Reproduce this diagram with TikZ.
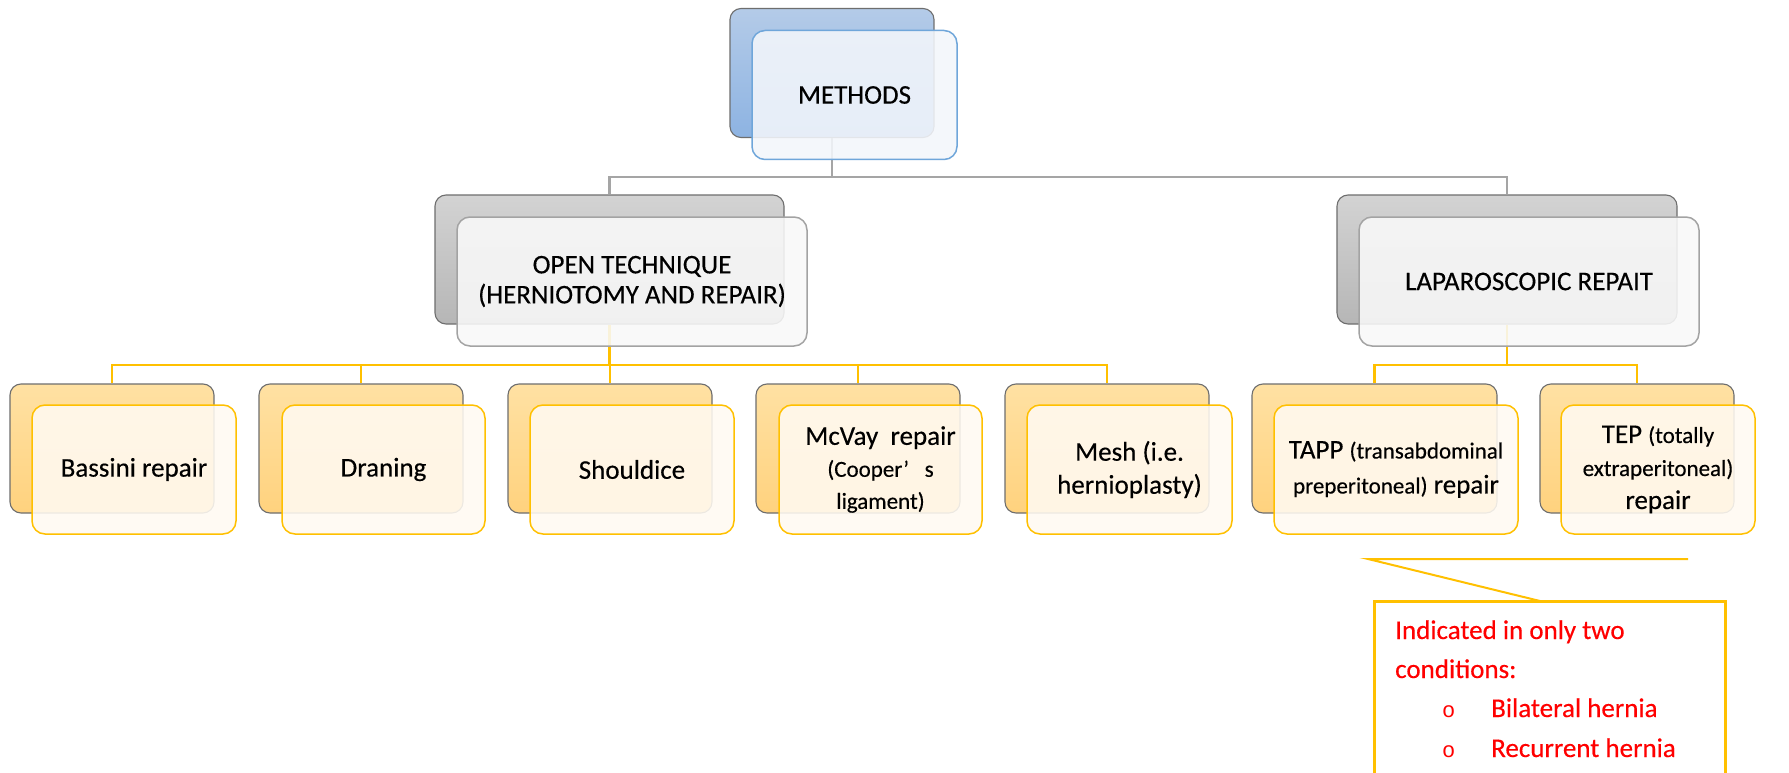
\documentclass[tikz,border=0pt]{standalone}
\usepackage{fontspec}
\setmainfont{Carlito}[FakeBold=0.35]
\newfontfamily\bulletfont{Liberation Mono}
\definecolor{backline}{HTML}{6E6E6E}
\definecolor{bluetop}{HTML}{B4CBE8}
\definecolor{bluebot}{HTML}{8DB3E2}
\definecolor{bluefill}{HTML}{F3F6FB}
\definecolor{blueedge}{HTML}{6FA6DA}
\definecolor{graytop}{HTML}{D3D3D3}
\definecolor{graybot}{HTML}{B6B6B6}
\definecolor{grayfill}{HTML}{F9F9F9}
\definecolor{grayedge}{HTML}{A3A3A3}
\definecolor{orgtop}{HTML}{FFE1A3}
\definecolor{orgbot}{HTML}{FFD27E}
\definecolor{orgfill}{HTML}{FFFAF2}
\definecolor{orgedge}{HTML}{FFC000}
\definecolor{conngray}{HTML}{A5A5A5}
\definecolor{redtxt}{HTML}{FF0000}
\begin{document}
\begin{tikzpicture}[x=1pt,y=-1pt,
  back/.style={draw=backline, line width=1.1pt, rounded corners=11pt, minimum height=129pt, inner sep=0pt},
  front/.style={rounded corners=13pt, minimum height=129pt, inner sep=0pt, line width=1.5pt,
    fill opacity=0.88, text opacity=1, align=center, font=\fontsize{27}{33}\selectfont},
  blueback/.style={back, top color=bluetop, bottom color=bluebot},
  grayback/.style={back, top color=graytop, bottom color=graybot},
  orgback/.style={back, top color=orgtop, bottom color=orgbot},
  bluefront/.style={front, draw=blueedge, fill=bluefill},
  grayfront/.style={front, draw=grayedge, fill=grayfill},
  orgfront/.style={front, draw=orgedge, fill=orgfill},
  gline/.style={draw=conngray, line width=2.5pt},
  yline/.style={draw=orgedge, line width=2.5pt},
  redtext/.style={text=redtxt, inner sep=0pt, anchor=base west, font=\fontsize{27}{33}\selectfont},
  bulletmark/.style={text=redtxt, inner sep=0pt, anchor=base west, font=\bulletfont\fontsize{22}{22}\selectfont}
]
\useasboundingbox (0,0) rectangle (1789,773);
\clip (0,0) rectangle (1789,773);
\fill[white] (0,0) rectangle (1789,773);

\newcommand{\sm}[1]{{\fontsize{23}{33}\selectfont #1}}

% level coordinates
\coordinate (lv1) at (0,177);
\coordinate (lv2) at (0,365);

% back boxes
\node[blueback, minimum width=204pt] (mB) at (832,73) {};
\node[grayback, minimum width=349pt] (oB) at (609.5,259.5) {};
\node[grayback, minimum width=340pt] (lB) at (1507,259.5) {};
\node[orgback, minimum width=204pt] (b1B) at (112,448.5) {};
\node[orgback, minimum width=204pt] (b2B) at (361,448.5) {};
\node[orgback, minimum width=204pt] (b3B) at (610,448.5) {};
\node[orgback, minimum width=204pt] (b4B) at (858,448.5) {};
\node[orgback, minimum width=204pt] (b5B) at (1107,448.5) {};
\node[orgback, minimum width=245pt] (b6B) at (1374.5,448.5) {};
\node[orgback, minimum width=194pt] (b7B) at (1637,448.5) {};

% connectors
\draw[gline] (mB.south) -- (mB.south |- lv1) -| (oB.north);
\draw[gline] (mB.south |- lv1) -| (lB.north);
\draw[yline] (oB.south) -- (oB.south |- lv2);
\draw[yline] (b1B.north) |- (b5B.north |- lv2) -- (b5B.north);
\draw[yline] (b2B.north) -- (b2B.north |- lv2);
\draw[yline] (b3B.north) -- (b3B.north |- lv2);
\draw[yline] (b4B.north) -- (b4B.north |- lv2);
\draw[yline] (lB.south) -- (lB.south |- lv2);
\draw[yline] (b6B.north) |- (b7B.north |- lv2) -- (b7B.north);

% front boxes
\node[bluefront, minimum width=205pt] (mF) at (854.5,95) {METHODS};
\node[grayfront, minimum width=350pt, font=\fontsize{27}{30}\selectfont] (oF) at (632,281.5) {OPEN TECHNIQUE\\(HERNIOTOMY AND REPAIR)};
\node[grayfront, minimum width=340pt] (lF) at (1529,281.5) {LAPAROSCOPIC REPAIT};
\node[orgfront, minimum width=204pt] (b1F) at (134,469.5) {Bassini repair};
\node[orgfront, minimum width=203pt] (b2F) at (383.5,469.5) {Draning};
\node[orgfront, minimum width=204pt] (b3F) at (632,469.5) {Shouldice};
\node[orgfront, minimum width=203pt, font=\fontsize{27}{32}\selectfont] (b4F) at (880.5,469.5) {McVay\ \ repair\\\sm{(Cooper’\ \ \ s}\\\sm{ligament)}};
\node[orgfront, minimum width=205pt] (b5F) at (1129.5,469.5) {Mesh (i.e.\\hernioplasty)};
\node[orgfront, minimum width=244pt, font=\fontsize{27}{35}\selectfont] (b6F) at (1396,469.5) {TAPP \sm{(transabdominal}\\\sm{preperitoneal)} repair};
\node[orgfront, minimum width=194pt, font=\fontsize{27}{33}\selectfont] (b7F) at (1658,469.5) {TEP \sm{(totally}\\\sm{extraperitoneal)}\\repair};

% callout
\coordinate (p0) at (1368,559);
\coordinate (p1) at (1688,559);
\coordinate (p2) at (1540,601);
\coordinate (cTL) at (1374,601);
\coordinate (cTR) at (1725,601);
\coordinate (cBL) at (1374,790);
\coordinate (cBR) at (1725,790);
\draw[draw=orgedge, line width=2pt, line join=miter] (p1) -- (p0) -- (p2);
\draw[draw=orgedge, line width=3pt] (cBL) -- (cTL) -- (cTR) -- (cBR);

\node[redtext] (c1) at (1395,639) {Indicated in only two};
\node[redtext] (c2) at (1395,678) {conditions:};
\node[bulletmark] (o1) at (1442,717) {o};
\node[redtext] (t1) at (1491,717) {Bilateral hernia};
\node[bulletmark] (o2) at (1442,757) {o};
\node[redtext] (t2) at (1491,757) {Recurrent hernia};
\end{tikzpicture}
\end{document}
